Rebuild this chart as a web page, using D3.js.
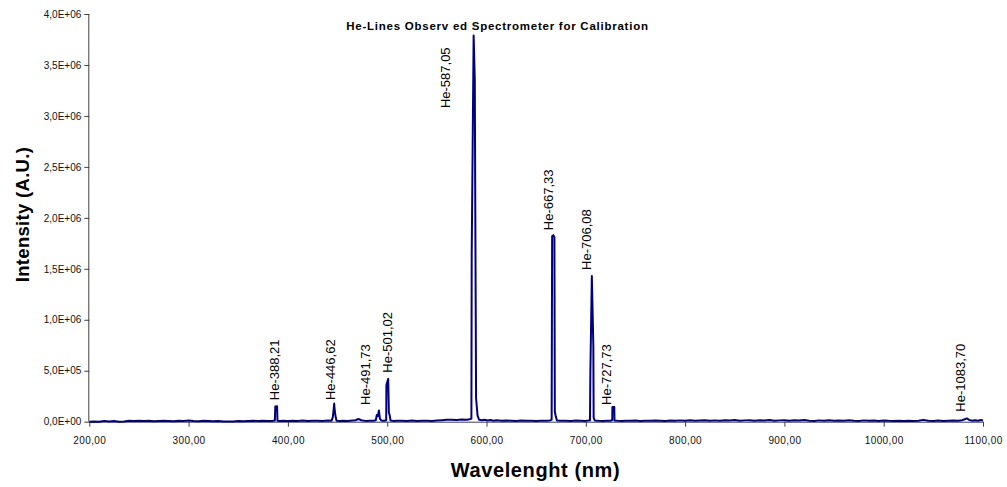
<!DOCTYPE html>
<html>
<head>
<meta charset="utf-8">
<script src="https://cdn.jsdelivr.net/npm/d3@7"></script>
<style>
  html, body { margin: 0; padding: 0; background: #fff; }
  svg { display: block; font-family: "Liberation Sans", Arial, Helvetica, sans-serif; }
</style>
</head>
<body>
<svg id="chart" width="1007" height="487"></svg>
<script>
// Helium emission spectrum (wavelength in nm, intensity in thousands of counts)
const wavelengthNm = [
  200, 205, 210, 215, 220, 225, 230, 235, 240, 245,
  250, 255, 260, 265, 270, 275, 280, 285, 290, 295,
  300, 305, 310, 315, 320, 325, 330, 335, 340, 345,
  350, 355, 360, 365, 370, 375, 380, 384, 386.9, 387.3,
  389.1, 389.5, 392, 395, 400, 405, 410, 415, 420, 425,
  430, 435, 440, 444, 445.2, 446.0, 446.6, 447.3, 448.2, 449,
  452, 456, 460, 465, 468, 471, 474, 478, 482, 486,
  488.5, 489.5, 490.5, 491.7, 492.6, 494, 497, 499.0, 499.2, 501.0,
  501.7, 502.6, 503.3, 506, 510, 515, 520, 525, 530, 535,
  540, 545, 550, 555, 560, 565, 570, 575, 580, 583,
  584.8, 585.1, 587.05, 588.2, 589.5, 591, 592.5, 595, 598, 601,
  604, 607, 610, 615, 620, 625, 630, 635, 640, 645,
  650, 655, 660, 664, 665.6, 666.1, 667.33, 668.4, 668.8, 669.8,
  671, 675, 680, 685, 690, 695, 700, 704.2, 704.6, 706.08,
  707.6, 707.9, 709, 713, 717, 721, 725, 726.6, 726.8, 728.7,
  728.9, 732, 736, 740, 745, 750, 755, 760, 765, 770,
  775, 780, 785, 790, 795, 800, 805, 810, 815, 820,
  825, 830, 835, 840, 845, 850, 855, 860, 865, 870,
  875, 880, 885, 890, 895, 900, 905, 910, 915, 920,
  925, 930, 935, 940, 945, 950, 955, 960, 965, 970,
  975, 980, 985, 990, 995, 1000, 1005, 1010, 1015, 1020,
  1025, 1030, 1035, 1040, 1045, 1050, 1055, 1060, 1065, 1070,
  1075, 1079, 1081, 1083.7, 1086, 1089, 1092, 1095, 1098, 1100
];
const intensityK = [
  0, 2, 0, 8, 1, 6, 0, 3, 9, 7,
  10, 6, 9, 5, 8, 10, 7, 5, 9, 6,
  11, 7, 5, 9, 6, 4, 8, 3, 1, 2,
  7, 5, 8, 10, 6, 9, 7, 8, 12, 150,
  152, 10, 6, 9, 7, 10, 8, 11, 6, 9,
  10, 7, 12, 9, 45, 110, 178, 95, 40, 10,
  8, 9, 7, 11, 14, 26, 14, 8, 9, 10,
  14, 65, 55, 110, 30, 12, 9, 14, 360, 420,
  90, 60, 12, 8, 10, 9, 8, 11, 7, 10,
  9, 8, 11, 14, 18, 20, 17, 22, 20, 24,
  30, 1650, 3790, 3350, 230, 60, 20, 15, 20, 12,
  17, 10, 14, 9, 12, 10, 8, 11, 9, 10,
  7, 9, 10, 12, 20, 1820, 1830, 1810, 100, 50,
  12, 9, 10, 8, 11, 9, 8, 15, 490, 1430,
  740, 40, 12, 9, 8, 10, 9, 15, 145, 145,
  12, 9, 8, 10, 9, 11, 8, 10, 9, 12,
  10, 8, 11, 9, 13, 10, 14, 9, 12, 15,
  10, 13, 9, 14, 11, 16, 10, 13, 15, 9,
  14, 11, 16, 10, 13, 15, 9, 14, 11, 17,
  10, 8, 13, 9, 15, 10, 12, 9, 14, 10,
  8, 13, 9, 11, 7, 12, 9, 8, 10, 7,
  9, 8, 10, 18, 9, 8, 11, 7, 10, 12,
  9, 15, 22, 32, 18, 10, 14, 9, 16, 12
];

// Identified helium lines
const lineNm = [388.21, 446.62, 491.73, 501.02, 587.05, 667.33, 706.08, 727.73, 1083.70];
const lineLabels = ["He-388,21", "He-446,62", "He-491,73", "He-501,02", "He-587,05",
                    "He-667,33", "He-706,08", "He-727,73", "He-1083,70"];

// Axis ticks
const xTicks = [200, 300, 400, 500, 600, 700, 800, 900, 1000, 1100];
const yTicks = [0, 5e5, 1e6, 1.5e6, 2e6, 2.5e6, 3e6, 3.5e6, 4e6];

const chartTitle = "He-Lines Observ ed Spectrometer for Calibration";
const xTitle = "Wavelenght (nm)";
const yTitle = "Intensity (A.U.)";

// ---- drawing ----
const svg = d3.select("#chart");
const plot = { left: 89.3, right: 983, top: 14, bottom: 421.7 };

const x = d3.scaleLinear().domain([200, 1100]).range([plot.left, plot.right]);
const y = d3.scaleLinear().domain([0, 4e6]).range([plot.bottom, plot.top]);

const points = wavelengthNm.map((w, i) => ({ w, v: intensityK[i] * 1000 }));

// comma decimal formats
const fmtX = v => d3.format(".2f")(v).replace(".", ",");
const fmtY = v => {
  if (v === 0) return "0,0E+00";
  const e = Math.floor(Math.log10(v));
  const m = (v / Math.pow(10, e)).toFixed(1).replace(".", ",");
  return m + "E+" + String(e).padStart(2, "0");
};

const axisColor = "#404040";

// y axis
const gy = svg.append("g")
  .attr("transform", `translate(${plot.left},0)`)
  .call(d3.axisLeft(y).tickValues(yTicks).tickFormat(fmtY).tickSize(5).tickPadding(3));
// x axis
const gx = svg.append("g")
  .attr("transform", `translate(0,${plot.bottom})`)
  .call(d3.axisBottom(x).tickValues(xTicks).tickFormat(fmtX).tickSize(5).tickPadding(10));

[gx, gy].forEach(g => {
  g.select(".domain").attr("stroke", axisColor).attr("stroke-width", 1);
  g.selectAll(".tick line").attr("stroke", axisColor).attr("stroke-width", 1);
  g.selectAll(".tick text").attr("fill", "#111").style("font-size", "10px")
    .style("font-family", "'Liberation Sans', Arial, sans-serif");
});
gx.selectAll(".tick text").style("letter-spacing", "0.4px");
gx.select(".domain").attr("d", `M${plot.left},0.5H${plot.right}`);
gy.select(".domain").attr("d", `M-0.5,${plot.top}V${plot.bottom}`);

// spectrum trace
const line = d3.line().x(d => x(d.w)).y(d => y(d.v));
svg.append("path")
  .datum(points)
  .attr("fill", "none")
  .attr("stroke", "#000080")
  .attr("stroke-width", 2)
  .attr("stroke-linejoin", "round")
  .attr("d", line);

// line labels: placed just above each peak (pixel nudges per label)
const labelNudge = [[2.8, -6], [0.8, -3.5], [-8.5, -5.5], [3.8, -6.2], [-24, 72.7],
                    [-0.4, -5], [-0.8, -6], [-1.9, -2], [-1.6, -6.7]];
lineNm.forEach((nm, i) => {
  const near = points.filter(p => Math.abs(p.w - nm) <= 2.5);
  const peak = d3.max(near, p => p.v);
  const bx = x(nm) + labelNudge[i][0];
  const sy = y(peak) + labelNudge[i][1];
  svg.append("text")
    .attr("transform", `translate(${bx},${sy}) rotate(-90)`)
    .attr("text-anchor", "start")
    .style("font-size", "13px")
    .attr("fill", "#000")
    .text(lineLabels[i]);
});

// titles
svg.append("text")
  .attr("x", 497.5).attr("y", 30)
  .attr("text-anchor", "middle")
  .style("font-size", "11.5px").style("font-weight", "bold")
  .style("letter-spacing", "0.75px")
  .text(chartTitle);

svg.append("text")
  .attr("x", 535.5).attr("y", 477.3)
  .attr("text-anchor", "middle")
  .style("font-size", "20px").style("font-weight", "bold")
  .style("letter-spacing", "0.6px")
  .text(xTitle);

svg.append("text")
  .attr("transform", "translate(29.3,214.5) rotate(-90)")
  .attr("text-anchor", "middle")
  .style("font-size", "18.5px").style("font-weight", "bold")
  .style("letter-spacing", "0.3px")
  .text(yTitle);
</script>
</body>
</html>
